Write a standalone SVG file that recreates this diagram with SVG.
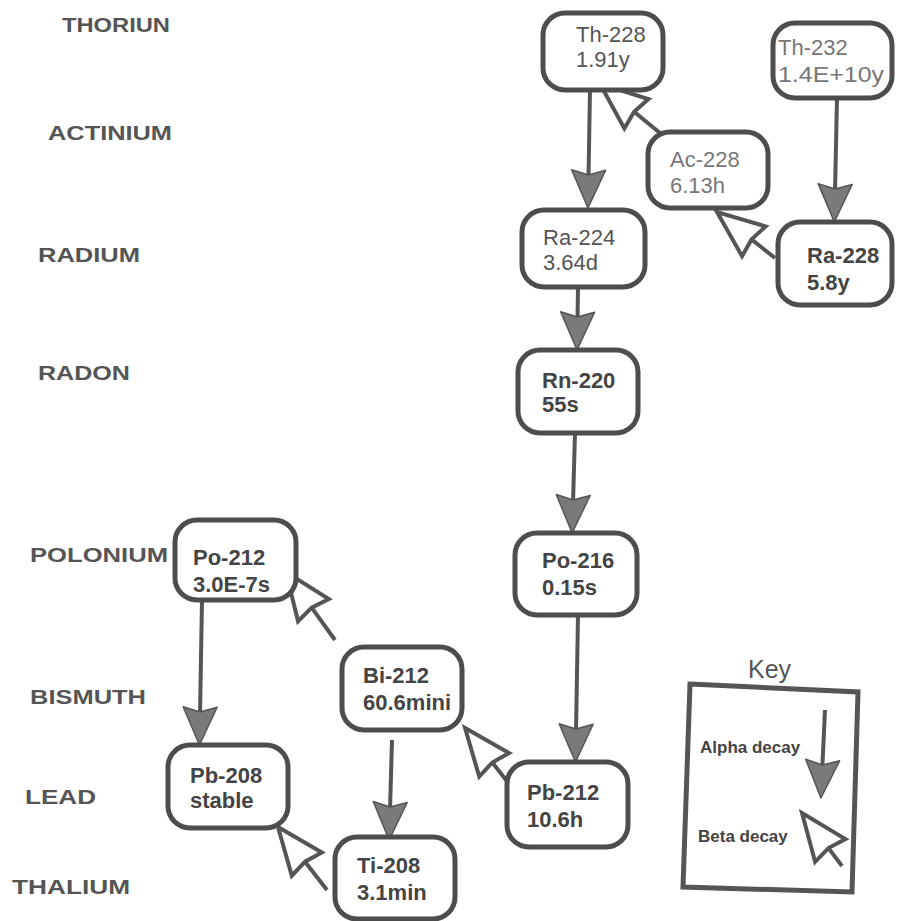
<svg xmlns="http://www.w3.org/2000/svg" width="898" height="921" viewBox="0 0 898 921">
<style>
.lbl{font-family:"Liberation Sans",Arial,sans-serif;font-weight:bold;font-size:20px;fill:#555}
.box{fill:#fff;stroke:#4d4d4d;stroke-width:5}
.t{font-family:"Liberation Sans",Arial,sans-serif;font-size:22px;font-weight:bold;fill:#444}
.tn{font-family:"Liberation Sans",Arial,sans-serif;font-size:22px;font-weight:normal;fill:#555}
.tl{font-family:"Liberation Sans",Arial,sans-serif;font-size:22px;font-weight:normal;fill:#777}
.a{stroke:#555;stroke-width:4;fill:none;marker-end:url(#alpha)}
.b{stroke:#555;stroke-width:4;fill:none;marker-end:url(#beta)}
.k{font-family:"Liberation Sans",Arial,sans-serif;font-size:17px;font-weight:bold;fill:#444}
</style>
<defs>
<marker id="alpha" markerUnits="userSpaceOnUse" viewBox="-40 -20 44 40" refX="-30" refY="0" markerWidth="44" markerHeight="40" orient="auto" overflow="visible">
<path d="M0,0 L-38,-17 L-33,0 L-38,17 Z" fill="#7a7a7a" stroke="#555" stroke-width="1.5" stroke-linejoin="round"/>
</marker>
<marker id="beta" markerUnits="userSpaceOnUse" viewBox="-50 -22 54 44" refX="-44" refY="0" markerWidth="54" markerHeight="44" orient="auto" overflow="visible">
<path d="M0,0 L-47,-19 L-44,0 L-47,19 Z" fill="#fff" stroke="#555" stroke-width="4" stroke-linejoin="miter"/>
</marker>
</defs>
<rect width="898" height="921" fill="#fff"/>
<g id="labels">
<text class="lbl" x="62" y="32" textLength="108" lengthAdjust="spacingAndGlyphs">THORIUN</text>
<text class="lbl" x="48" y="140" textLength="124" lengthAdjust="spacingAndGlyphs">ACTINIUM</text>
<text class="lbl" x="38" y="262" textLength="102" lengthAdjust="spacingAndGlyphs">RADIUM</text>
<text class="lbl" x="38" y="380" textLength="92" lengthAdjust="spacingAndGlyphs">RADON</text>
<text class="lbl" x="30" y="562" textLength="138" lengthAdjust="spacingAndGlyphs">POLONIUM</text>
<text class="lbl" x="30" y="704" textLength="116" lengthAdjust="spacingAndGlyphs">BISMUTH</text>
<text class="lbl" x="25" y="804" textLength="71" lengthAdjust="spacingAndGlyphs">LEAD</text>
<text class="lbl" x="12" y="894" textLength="118" lengthAdjust="spacingAndGlyphs">THALIUM</text>
</g>
<g id="connectors">
<line class="a" x1="590" y1="90" x2="588.5" y2="178"/>
<line class="b" x1="660" y1="133" x2="634.1" y2="111.8"/>
<line class="a" x1="837" y1="98" x2="835" y2="192"/>
<line class="b" x1="775" y1="258" x2="751.5" y2="239.4"/>
<line class="a" x1="578" y1="287" x2="577.5" y2="320"/>
<line class="a" x1="575" y1="433" x2="573" y2="503"/>
<line class="a" x1="578" y1="615" x2="576" y2="732"/>
<line class="b" x1="514" y1="790" x2="492.3" y2="762.5"/>
<line class="b" x1="335" y1="640" x2="311.7" y2="607.7"/>
<line class="a" x1="202" y1="600" x2="200" y2="715"/>
<line class="a" x1="392" y1="740" x2="390" y2="810"/>
<line class="b" x1="327" y1="890" x2="305" y2="861.7"/>
</g>
<g id="th228"><rect class="box" x="543" y="13" width="120" height="77" rx="22"/><text class="tn" x="576" y="42">Th-228</text><text class="tn" x="576" y="67">1.91y</text></g>
<g id="th232"><rect class="box" x="773" y="23" width="119" height="75" rx="22"/><text class="tl" x="778" y="55">Th-232</text><text class="tl" x="778" y="82" textLength="106" lengthAdjust="spacingAndGlyphs">1.4E+10y</text></g>
<g id="ac228"><rect class="box" x="648" y="132" width="120" height="76" rx="22"/><text class="tl" x="670" y="167">Ac-228</text><text class="tl" x="670" y="193">6.13h</text></g>
<g id="ra228"><rect class="box" x="778" y="222" width="114" height="83" rx="22"/><text class="t" x="807" y="263">Ra-228</text><text class="t" x="807" y="290">5.8y</text></g>
<g id="ra224"><rect class="box" x="522" y="210" width="123" height="77" rx="22"/><text class="tn" x="543" y="245">Ra-224</text><text class="tn" x="543" y="270">3.64d</text></g>
<g id="rn220"><rect class="box" x="518" y="350" width="120" height="83" rx="22"/><text class="t" x="542" y="388">Rn-220</text><text class="t" x="542" y="412">55s</text></g>
<g id="po216"><rect class="box" x="515" y="533" width="122" height="82" rx="22"/><text class="t" x="542" y="568">Po-216</text><text class="t" x="542" y="595">0.15s</text></g>
<g id="pb212"><rect class="box" x="507" y="762" width="121" height="85" rx="22"/><text class="t" x="527" y="800">Pb-212</text><text class="t" x="527" y="827">10.6h</text></g>
<g id="po212"><rect class="box" x="175" y="520" width="121" height="80" rx="22"/><text class="t" x="193" y="565">Po-212</text><text class="t" x="193" y="592">3.0E-7s</text></g>
<g id="bi212"><rect class="box" x="342" y="647" width="120" height="83" rx="22"/><text class="t" x="363" y="683">Bi-212</text><text class="t" x="363" y="710">60.6mini</text></g>
<g id="pb208"><rect class="box" x="168" y="745" width="120" height="83" rx="22"/><text class="t" x="190" y="783">Pb-208</text><text class="t" x="190" y="808">stable</text></g>
<g id="ti208"><rect class="box" x="335" y="837" width="120" height="82" rx="22"/><text class="t" x="357" y="873">Ti-208</text><text class="t" x="357" y="900">3.1min</text></g>
<g id="key">
<text x="748" y="678" font-family="Liberation Sans, Arial, sans-serif" font-size="25" fill="#555">Key</text>
<polygon points="690,684 858,692 852,892 683,887" fill="none" stroke="#555" stroke-width="5"/>
<text class="k" x="700" y="753">Alpha decay</text>
<text class="k" x="698" y="842">Beta decay</text>
<line class="a" x1="825" y1="710" x2="822.3" y2="768"/>
<line class="b" x1="842" y1="866" x2="828.5" y2="848.1"/>
</g>
</svg>
